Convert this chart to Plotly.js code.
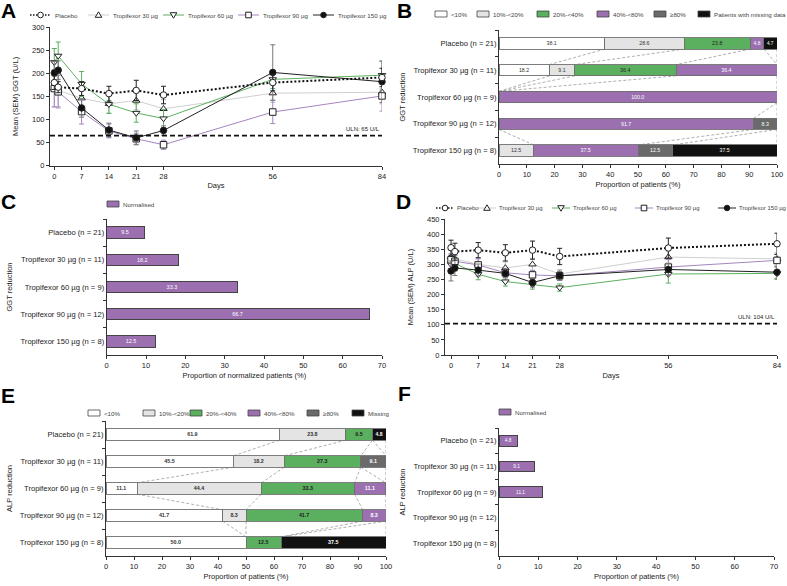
<!DOCTYPE html>
<html><head><meta charset="utf-8">
<script src="https://cdn.plot.ly/plotly-3.0.1.min.js"></script>
<style>html,body{margin:0;padding:0;background:#fff}#chart{width:787px;height:586px}</style>
</head><body><div id="chart"></div>
<script>
// ---------- DATA ----------
const days = [0, 1, 7, 14, 21, 28, 56, 84];
const dayTicks = [0, 7, 14, 21, 28, 56, 84];
const groupNames = ['Placebo', 'Tropifexor 30 µg', 'Tropifexor 60 µg', 'Tropifexor 90 µg', 'Tropifexor 150 µg'];
const groupLabels = ['Placebo (n = 21)', 'Tropifexor 30 µg (n = 11)', 'Tropifexor 60 µg (n = 9)', 'Tropifexor 90 µg (n = 12)', 'Tropifexor 150 µg (n = 8)'];

// Panel A: GGT over time (mean, SEM)
const ggtPlacebo = [180, 170, 167, 156, 163, 153, 180, 191];
const ggtPlaceboSem = [15, 12, 15, 16, 22, 19, 18, 20];
const ggt30 = [168, 163, 146, 134, 141, 123, 157, 159];
const ggt30Sem = [40, 35, 20, 20, 20, 20, 20, 25];
const ggt60 = [224, 238, 177, 133, 114, 102, 187, 196];
const ggt60Sem = [30, 30, 27, 20, 20, 20, 20, 30];
const ggt90 = [167, 160, 117, 75, 58, 45, 116, 151];
const ggt90Sem = [40, 35, 27, 15, 12, 10, 25, 33];
const ggt150 = [201, 207, 125, 77, 60, 76, 202, 182];
const ggt150Sem = [25, 20, 20, 15, 15, 10, 60, 45];
const ggtUln = 65;

// Panel D: ALP over time (mean, SEM)
const alpPlacebo = [355, 342, 347, 338, 347, 326, 354, 368];
const alpPlaceboSem = [25, 28, 25, 27, 30, 27, 33, 35];
const alp30 = [325, 318, 300, 288, 300, 268, 324, 318];
const alp30Sem = [20, 20, 20, 20, 20, 15, 20, 20];
const alp60 = [300, 303, 267, 243, 233, 223, 268, 270];
const alp60Sem = [30, 25, 18, 15, 15, 12, 30, 20];
const alp90 = [315, 310, 298, 272, 265, 262, 291, 313];
const alp90Sem = [20, 20, 20, 15, 15, 15, 25, 20];
const alp150 = [278, 288, 281, 270, 240, 262, 283, 274];
const alp150Sem = [33, 25, 20, 15, 15, 15, 20, 20];
const alpUln = 104;

// Panel B: GGT reduction categories (% of patients)
const ggtBandNames = ['<10%', '10%-<20%', '20%-<40%', '40%-<80%', '≥80%', 'Patients with missing data'];
const ggtLt10 = [38.1, 18.2, 0, 0, 0];
const ggt10to20 = [28.6, 9.1, 0, 0, 12.5];
const ggt20to40 = [23.8, 36.4, 0, 0, 0];
const ggt40to80 = [4.8, 36.4, 100.0, 91.7, 37.5];
const ggtGe80 = [0, 0, 0, 8.3, 12.5];
const ggtMissing = [4.7, 0, 0, 0, 37.5];

// Panel C: GGT normalised
const ggtNormalised = [9.5, 18.2, 33.3, 66.7, 12.5];

// Panel E: ALP reduction categories
const alpBandNames = ['<10%', '10%-<20%', '20%-<40%', '40%-<80%', '≥80%', 'Missing'];
const alpLt10 = [61.9, 45.5, 11.1, 41.7, 50.0];
const alp10to20 = [23.8, 18.2, 44.4, 8.3, 0];
const alp20to40 = [9.5, 27.3, 33.3, 41.7, 12.5];
const alp40to80 = [0, 0, 11.1, 8.3, 0];
const alpGe80 = [0, 9.1, 0, 0, 0];
const alpMissing = [4.8, 0, 0, 0, 37.5];

// Panel F: ALP normalised
const alpNormalised = [4.8, 9.1, 11.1, 0, 0];

// ---------- STYLE ----------
const W = 787, H = 586;
const FONT = 'Liberation Sans, Arial, sans-serif';
const px = v => v / W;
const py = v => 1 - v / H;
const bandColors = ['#ffffff', '#e4e4e4', '#5bb05f', '#9b6fb0', '#6a6a6a', '#111111'];
const bandText = ['#333', '#333', '#222', '#fff', '#fff', '#fff'];
const purple = '#9b6fb0';
const lineStyles = [
  {line: {color: '#111', width: 2, dash: '2px,2px'}, err: '#222', symbol: 'circle', fill: '#fff', kind: 'circle-open'},
  {line: {color: '#cfcfcf', width: 1}, err: '#bdbdbd', symbol: 'triangle-up', fill: '#fff', kind: 'tri-up'},
  {line: {color: '#5bb05f', width: 1}, err: '#5bb05f', symbol: 'triangle-down', fill: '#fff', kind: 'tri-down'},
  {line: {color: '#a585c0', width: 1}, err: '#a585c0', symbol: 'square', fill: '#fff', kind: 'square'},
  {line: {color: '#222', width: 1}, err: '#777', symbol: 'circle', fill: '#111', kind: 'circle'}
];

const traces = [];
const shapes = [];
const annotations = [];

function timeTraces(series, sems, xa, ya) {
  const order = [1, 2, 3, 4, 0];
  order.forEach(k => {
    const st = lineStyles[k];
    traces.push({
      type: 'scatter', mode: 'lines+markers', x: days, y: series[k], name: groupNames[k],
      xaxis: xa, yaxis: ya, showlegend: false, hoverinfo: 'skip', cliponaxis: false,
      line: st.line,
      marker: {symbol: st.symbol, size: 6.5, color: st.fill, line: {color: '#222', width: 1}},
      error_y: {type: 'data', array: sems[k], visible: true, color: st.err, thickness: 1, width: 2.5}
    });
  });
}
timeTraces([ggtPlacebo, ggt30, ggt60, ggt90, ggt150], [ggtPlaceboSem, ggt30Sem, ggt60Sem, ggt90Sem, ggt150Sem], 'x', 'y');
timeTraces([alpPlacebo, alp30, alp60, alp90, alp150], [alpPlaceboSem, alp30Sem, alp60Sem, alp90Sem, alp150Sem], 'x4', 'y4');

const HW = 0.21; // half bar thickness in category units (1 - bargap)/2
function stackTraces(bands, names, xa, ya, bold) {
  bands.forEach((vals, i) => {
    traces.push({
      type: 'bar', orientation: 'h', y: groupLabels, x: vals.map(v => v > 0 ? v : null), name: names[i],
      xaxis: xa, yaxis: ya, showlegend: false, hoverinfo: 'skip',
      marker: {color: bandColors[i], line: {color: '#6f6f6f', width: 0.9}},
      text: vals.map(v => v > 0 ? v.toFixed(1) : ''), textposition: 'inside', insidetextanchor: 'middle', textangle: 0,
      textfont: {size: 6, color: bandText[i], family: FONT, weight: bold ? 'bold' : 'normal'}
    });
  });
  // dashed connectors between adjacent bars
  const nG = bands[0].length;
  const cum = [];
  for (let g = 0; g < nG; g++) {
    let s = 0;
    cum.push(bands.map(b => Math.min(100, (s += b[g]))));
  }
  for (let g = 0; g < nG - 1; g++) {
    const seen = {};
    bands.forEach((b, i) => {
      if (!(b[g] > 0 || b[g + 1] > 0)) return;
      const x0 = cum[g][i], x1 = cum[g + 1][i];
      const key = x0.toFixed(1) + '_' + x1.toFixed(1);
      if (seen[key]) return;
      seen[key] = true;
      shapes.push({type: 'line', xref: xa, yref: ya, x0: x0, x1: x1, y0: g + HW, y1: g + 1 - HW,
        line: {color: '#9a9a9a', width: 0.8, dash: '3px,2px'}, layer: 'below'});
    });
  }
}
stackTraces([ggtLt10, ggt10to20, ggt20to40, ggt40to80, ggtGe80, ggtMissing], ggtBandNames, 'x2', 'y2', false);
stackTraces([alpLt10, alp10to20, alp20to40, alp40to80, alpGe80, alpMissing], alpBandNames, 'x5', 'y5', true);

function normTrace(vals, xa, ya) {
  traces.push({
    type: 'bar', orientation: 'h', y: groupLabels, x: vals.map(v => v > 0 ? v : null), name: 'Normalised',
    xaxis: xa, yaxis: ya, showlegend: false, hoverinfo: 'skip',
    marker: {color: purple, line: {color: '#444', width: 1}},
    text: vals.map(v => v > 0 ? v.toFixed(1) : ''), textposition: 'inside', insidetextanchor: 'middle', textangle: 0,
    textfont: {size: 6, color: '#fff', family: FONT}
  });
}
normTrace(ggtNormalised, 'x3', 'y3');
normTrace(alpNormalised, 'x6', 'y6');

// ULN lines
[[ggtUln, 'x', 'y'], [alpUln, 'x4', 'y4']].forEach(([u, xa, ya]) => {
  shapes.push({type: 'line', xref: xa + ' domain', yref: ya, x0: 0, x1: 1, y0: u, y1: u,
    line: {color: '#111', width: 1.8, dash: '5px,3px'}});
  annotations.push({xref: xa, yref: ya, x: 84, y: u, xanchor: 'right', yanchor: 'bottom', yshift: 2,
    text: 'ULN: ' + u + ' U/L', showarrow: false, font: {size: 6, color: '#222', family: FONT}});
});

// ---------- MANUAL LEGENDS ----------
function legText(x, y, t, size) {
  annotations.push({xref: 'paper', yref: 'paper', x: px(x), y: py(y), xanchor: 'left', yanchor: 'middle',
    text: t, showarrow: false, font: {size: size || 6.2, color: '#444', family: FONT}, borderpad: 0});
}
function legMarker(cx, cy, kind) {
  const r = 2.8;
  const base = {xref: 'paper', yref: 'paper', xsizemode: 'pixel', ysizemode: 'pixel', xanchor: px(cx), yanchor: py(cy),
    line: {color: '#222', width: 1}, fillcolor: '#fff'};
  if (kind === 'circle-open') shapes.push(Object.assign({type: 'circle', x0: -r, x1: r, y0: -r, y1: r}, base));
  else if (kind === 'circle') shapes.push(Object.assign({}, base, {type: 'circle', x0: -r, x1: r, y0: -r, y1: r, fillcolor: '#111'}));
  else if (kind === 'square') shapes.push(Object.assign({type: 'rect', x0: -r, x1: r, y0: -r, y1: r}, base));
  else if (kind === 'tri-up') shapes.push(Object.assign({type: 'path', path: 'M-3.3,-2.3L3.3,-2.3L0,3.2Z'}, base));
  else if (kind === 'tri-down') shapes.push(Object.assign({type: 'path', path: 'M-3.3,2.3L3.3,2.3L0,-3.2Z'}, base));
}
function lineLegend(starts, y, len, gap, size) {
  starts.forEach((x, k) => {
    const st = lineStyles[k];
    shapes.push({type: 'line', xref: 'paper', yref: 'paper', x0: px(x), x1: px(x + len), y0: py(y), y1: py(y),
      line: {color: st.line.color, width: k === 0 ? 1.5 : 1, dash: k === 0 ? '1.5px,1.5px' : 'solid'}});
    legMarker(x + len / 2, y, st.kind);
    legText(x + len + gap, y, groupNames[k], size);
  });
}
lineLegend([30, 88, 163, 238, 313], 15, 21, 3, 6.2);
lineLegend([436, 478, 552, 635, 718], 208, 18, 2, 6);

function boxLegend(starts, y, names, colors) {
  starts.forEach((x, k) => {
    shapes.push({type: 'rect', xref: 'paper', yref: 'paper', x0: px(x), x1: px(x + 12), y0: py(y + 3), y1: py(y - 3),
      fillcolor: colors[k], line: {color: '#444', width: 0.8}});
    legText(x + 15, y, names[k]);
  });
}
boxLegend([435, 477, 537, 597, 654, 698], 14, ggtBandNames, bandColors);
boxLegend([88, 143, 190, 248, 307, 352], 413, alpBandNames, bandColors);
boxLegend([107], 204, ['Normalised'], [purple]);
boxLegend([499], 412, ['Normalised'], [purple]);

// Panel letters
[['A', 0, 10], ['B', 396, 10], ['C', 0, 201], ['D', 395, 201], ['E', 0, 395], ['F', 397, 393]].forEach(([t, x, y]) => {
  annotations.push({xref: 'paper', yref: 'paper', x: px(x), y: py(y), xanchor: 'left', yanchor: 'middle', text: '<b>' + t + '</b>',
    showarrow: false, font: {size: 21, color: '#000', family: FONT}, borderpad: 0});
});

// ---------- AXES ----------
const tickFont = {size: 7.5, color: '#222', family: FONT};
const titleFont = {size: 7.5, color: '#222', family: FONT};
function baseAxis(extra) {
  return Object.assign({showline: true, linecolor: '#333', linewidth: 1, ticks: 'outside', ticklen: 3, tickwidth: 1,
    tickcolor: '#333', tickfont: tickFont, showgrid: false, zeroline: false, fixedrange: true}, extra);
}
function catAxis(domain, anchor, title, standoff) {
  return baseAxis({domain: domain, anchor: anchor, type: 'category', categoryorder: 'array', categoryarray: groupLabels,
    range: [4.5, -0.5], tickson: 'boundaries', tickfont: {size: 7.6, color: '#222', family: FONT},
    title: {text: title, font: titleFont, standoff: standoff}});
}

const layout = {
  width: W, height: H, margin: {l: 0, r: 0, t: 0, b: 0}, paper_bgcolor: '#fff', plot_bgcolor: 'rgba(0,0,0,0)',
  font: {family: FONT, color: '#222'}, showlegend: false, barmode: 'stack', bargap: 0.58,
  xaxis: baseAxis({domain: [px(50), px(382)], anchor: 'y', range: [-1.1, 84], tickvals: dayTicks,
    title: {text: 'Days', font: titleFont, standoff: 3}}),
  yaxis: baseAxis({domain: [py(165.5), py(27.3)], anchor: 'x', range: [0, 300], dtick: 50,
    title: {text: 'Mean (SEM) GGT (U/L)', font: titleFont, standoff: 12}}),
  xaxis2: baseAxis({domain: [px(499), px(777)], anchor: 'y2', range: [0, 100], dtick: 10,
    title: {text: 'Proportion of patients (%)', font: titleFont, standoff: 3}}),
  yaxis2: catAxis([py(164), py(30)], 'x2', 'GGT reduction', 6),
  xaxis3: baseAxis({domain: [px(106.7), px(382)], anchor: 'y3', range: [0, 70], dtick: 10,
    title: {text: 'Proportion of normalized patients (%)', font: titleFont, standoff: 3}}),
  yaxis3: catAxis([py(355), py(219)], 'x3', 'GGT reduction', 6),
  xaxis4: baseAxis({domain: [px(445), px(777)], anchor: 'y4', range: [-1.55, 84], tickvals: dayTicks,
    title: {text: 'Days', font: titleFont, standoff: 3}}),
  yaxis4: baseAxis({domain: [py(355), py(219)], anchor: 'x4', range: [0, 450], dtick: 50,
    title: {text: 'Mean (SEM) ALP (U/L)', font: titleFont, standoff: 12}}),
  xaxis5: baseAxis({domain: [px(106), px(386)], anchor: 'y5', range: [0, 100], dtick: 10,
    title: {text: 'Proportion of patients (%)', font: titleFont, standoff: 3}}),
  yaxis5: catAxis([py(556), py(421)], 'x5', 'ALP reduction', 6),
  xaxis6: baseAxis({domain: [px(499), px(774)], anchor: 'y6', range: [0, 70], dtick: 10,
    title: {text: 'Proportion of patients (%)', font: titleFont, standoff: 3}}),
  yaxis6: catAxis([py(556), py(428)], 'x6', 'ALP reduction', 6),
  shapes: shapes,
  annotations: annotations
};

Plotly.newPlot('chart', traces, layout, {staticPlot: true, displayModeBar: false});
</script>
</body></html>
